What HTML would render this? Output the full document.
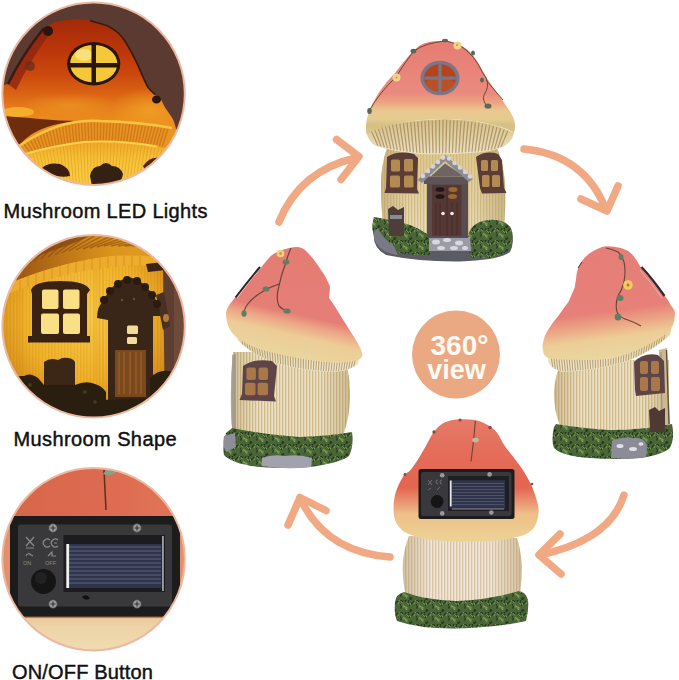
<!DOCTYPE html>
<html><head><meta charset="utf-8">
<style>
html,body{margin:0;padding:0;background:#fff;}
body{width:679px;height:680px;overflow:hidden;position:relative;font-family:"Liberation Sans",sans-serif;}
svg{position:absolute;left:0;top:0;}
.lbl{position:absolute;font-size:20px;color:#111;-webkit-text-stroke:0.45px #111;white-space:nowrap;line-height:1;}
</style></head><body>
<svg width="679" height="680" viewBox="0 0 679 680">
<defs>
  <clipPath id="c1"><circle cx="93.6" cy="93.7" r="91"/></clipPath>
  <clipPath id="c1cap"><path d="M0,86 L8,84 Q20,55 44,28 C46.0,27.0 50.8,23.4 56.0,22.0 C61.2,20.6 69.3,19.7 75.0,19.5 C80.7,19.3 84.6,19.5 90.0,20.6 C95.4,21.7 102.9,23.8 107.6,25.9 C112.3,28.0 115.2,30.4 118.2,33.0 C121.2,35.6 122.9,38.2 125.3,41.7 C127.7,45.2 130.2,50.2 132.3,54.0 C134.4,57.8 135.8,60.9 137.6,64.7 C139.4,68.5 141.2,73.2 143.0,77.0 C144.8,80.8 146.1,84.6 148.2,87.6 C150.2,90.5 153.2,92.8 155.3,94.7 C157.4,96.6 158.8,96.7 160.5,99.0 C162.2,101.3 163.7,105.4 165.8,108.8 C167.9,112.2 171.1,115.8 172.9,119.3 C174.7,122.8 175.8,128.2 176.4,130.0  L190,140 L190,190 L0,190 Z"/></clipPath>
  <clipPath id="c2"><circle cx="93.6" cy="326.3" r="91"/></clipPath>
  <clipPath id="c3"><circle cx="93.6" cy="559.2" r="91"/></clipPath>
  <linearGradient id="g1cap" gradientUnits="userSpaceOnUse" x1="0" y1="20" x2="0" y2="125">
    <stop offset="0" stop-color="#a42a08"/>
    <stop offset="0.28" stop-color="#ba360a"/>
    <stop offset="0.52" stop-color="#cb480e"/>
    <stop offset="0.72" stop-color="#dc6614"/>
    <stop offset="0.88" stop-color="#e8841c"/>
    <stop offset="1" stop-color="#ec9020"/>
  </linearGradient>
  <radialGradient id="g1glowR" cx="0.5" cy="0.5" r="0.5">
    <stop offset="0" stop-color="#f0a024" stop-opacity="0.9"/>
    <stop offset="1" stop-color="#f0a024" stop-opacity="0"/>
  </radialGradient>
  <linearGradient id="g2top" x1="0" y1="0" x2="1" y2="0">
    <stop offset="0" stop-color="#8e4c12"/>
    <stop offset="0.35" stop-color="#c07818"/>
    <stop offset="0.6" stop-color="#dc961e"/>
    <stop offset="1" stop-color="#e2a028"/>
  </linearGradient>
  <linearGradient id="g1gill" x1="0" y1="0" x2="0" y2="1">
    <stop offset="0" stop-color="#f0a82a"/>
    <stop offset="0.35" stop-color="#f6c238"/>
    <stop offset="1" stop-color="#f9d24c"/>
  </linearGradient>
  <radialGradient id="g2wall" cx="0.45" cy="0.45" r="0.6">
    <stop offset="0" stop-color="#f8cc48"/>
    <stop offset="0.55" stop-color="#f0b22a"/>
    <stop offset="1" stop-color="#c67a16"/>
  </radialGradient>
  <linearGradient id="g3top" x1="0" y1="0" x2="1" y2="0">
    <stop offset="0" stop-color="#d66648"/>
    <stop offset="0.5" stop-color="#dc6a50"/>
    <stop offset="1" stop-color="#e27658"/>
  </linearGradient>
  <linearGradient id="g3bot" x1="0" y1="0" x2="0" y2="1">
    <stop offset="0" stop-color="#e9c49a"/>
    <stop offset="0.3" stop-color="#eed5a8"/>
    <stop offset="1" stop-color="#f1dcb2"/>
  </linearGradient>
  <linearGradient id="capg" x1="0" y1="0" x2="0" y2="1">
    <stop offset="0" stop-color="#e5837b"/>
    <stop offset="0.55" stop-color="#eb8f80"/>
    <stop offset="0.75" stop-color="#efae88"/>
    <stop offset="0.9" stop-color="#ecd198"/>
    <stop offset="1" stop-color="#e3cf95"/>
  </linearGradient>
  <linearGradient id="capT" gradientUnits="userSpaceOnUse" x1="0" y1="41" x2="0" y2="134">
    <stop offset="0" stop-color="#e67c72"/>
    <stop offset="0.56" stop-color="#eb8a7e"/>
    <stop offset="0.66" stop-color="#eda382"/>
    <stop offset="0.75" stop-color="#eac88e"/>
    <stop offset="0.84" stop-color="#e4cc90"/>
    <stop offset="0.9" stop-color="#d8c084"/>
    <stop offset="1" stop-color="#dcc488"/>
  </linearGradient>
  <linearGradient id="capL" gradientUnits="userSpaceOnUse" x1="305" y1="250" x2="280" y2="360">
    <stop offset="0" stop-color="#e47c74"/>
    <stop offset="0.57" stop-color="#e57e76"/>
    <stop offset="0.65" stop-color="#eca486"/>
    <stop offset="0.76" stop-color="#edcc96"/>
    <stop offset="1" stop-color="#e9d7a0"/>
  </linearGradient>
  <linearGradient id="capR" gradientUnits="userSpaceOnUse" x1="600" y1="246" x2="615" y2="358">
    <stop offset="0" stop-color="#e47e77"/>
    <stop offset="0.58" stop-color="#e68079"/>
    <stop offset="0.7" stop-color="#eca585"/>
    <stop offset="0.82" stop-color="#edcd96"/>
    <stop offset="1" stop-color="#e9d7a0"/>
  </linearGradient>
  <linearGradient id="capB" gradientUnits="userSpaceOnUse" x1="0" y1="419" x2="0" y2="541">
    <stop offset="0" stop-color="#e67a68"/>
    <stop offset="0.3" stop-color="#e46c58"/>
    <stop offset="0.56" stop-color="#e26650"/>
    <stop offset="0.67" stop-color="#ea9070"/>
    <stop offset="0.78" stop-color="#eec088"/>
    <stop offset="1" stop-color="#ecd296"/>
  </linearGradient>
  <linearGradient id="bodyS" x1="0" y1="0" x2="1" y2="0">
    <stop offset="0" stop-color="#d8c79c"/>
    <stop offset="0.25" stop-color="#e8dcbc"/>
    <stop offset="0.7" stop-color="#e6d9b8"/>
    <stop offset="1" stop-color="#d4c095"/>
  </linearGradient>
  <linearGradient id="bodyB" x1="0" y1="0" x2="1" y2="0">
    <stop offset="0" stop-color="#dcc8a4"/>
    <stop offset="0.3" stop-color="#ead9bd"/>
    <stop offset="0.7" stop-color="#e8d7bb"/>
    <stop offset="1" stop-color="#d8c39c"/>
  </linearGradient>
  <linearGradient id="gillS" x1="0" y1="0" x2="0" y2="1">
    <stop offset="0" stop-color="#e3d2a0"/>
    <stop offset="1" stop-color="#efe6cc"/>
  </linearGradient>
  <linearGradient id="bodyg" x1="0" y1="0" x2="1" y2="0">
    <stop offset="0" stop-color="#d9c391"/>
    <stop offset="0.3" stop-color="#ecdcae"/>
    <stop offset="0.7" stop-color="#ebdbad"/>
    <stop offset="1" stop-color="#d2bb88"/>
  </linearGradient>
  <linearGradient id="gillg" x1="0" y1="0" x2="0" y2="1">
    <stop offset="0" stop-color="#d6c08c"/>
    <stop offset="0.55" stop-color="#e2d2a6"/>
    <stop offset="1" stop-color="#eee4cc"/>
  </linearGradient>
  <pattern id="stripesT" width="3" height="10" patternUnits="userSpaceOnUse"><rect width="3" height="10" fill="#ede3c6"/><rect width="1.3" height="10" fill="#d3bf8e"/></pattern>
  <pattern id="stripesS" width="3" height="10" patternUnits="userSpaceOnUse"><rect width="3" height="10" fill="#f0e6cc"/><rect width="1.3" height="10" fill="#d2bc8a"/></pattern>
  <pattern id="stripesB" width="3" height="10" patternUnits="userSpaceOnUse"><rect width="3" height="10" fill="#f4ebde"/><rect width="1.3" height="10" fill="#dcc6a8"/></pattern>
  <linearGradient id="shadeH" x1="0" y1="0" x2="1" y2="0">
    <stop offset="0" stop-color="#a88c58" stop-opacity="0.45"/>
    <stop offset="0.22" stop-color="#a88c58" stop-opacity="0.05"/>
    <stop offset="0.75" stop-color="#a88c58" stop-opacity="0.05"/>
    <stop offset="1" stop-color="#a88c58" stop-opacity="0.45"/>
  </linearGradient>
  <linearGradient id="shadeTopY" x1="0" y1="0" x2="0" y2="1">
    <stop offset="0" stop-color="#d8b868" stop-opacity="0.55"/>
    <stop offset="0.6" stop-color="#d8b868" stop-opacity="0.25"/>
    <stop offset="1" stop-color="#d8b868" stop-opacity="0"/>
  </linearGradient>
  <pattern id="grass" width="16" height="12" patternUnits="userSpaceOnUse">
    <rect width="16" height="12" fill="#4b6636"/>
    <path d="M5.2,1.8 l0.7,-2.4 M0.6,5.2 l-1.9,-2.4 M10.0,11.4 l0.3,-1.9 M2.3,1.4 l-0.8,-1.3 M8.8,0.8 l-1.9,-2.2 M7.3,3.6 l1.3,-1.5 M11.7,3.5 l2.1,-2.3 M0.6,8.0 l1.2,-1.6 M9.3,5.5 l1.5,-1.1 M10.4,11.9 l1.4,-2.1 M2.7,1.4 l-1.9,-1.3" stroke="#22361f" stroke-width="1.2" stroke-linecap="round" fill="none"/>
    <path d="M8.6,4.4 l-1.9,-1.7 M6.8,9.9 l-1.7,-2.2 M15.6,0.6 l1.6,-2.1 M2.9,7.0 l0.6,-1.9 M10.9,5.1 l-0.8,-1.6 M3.9,6.9 l0.1,-1.2 M6.7,9.1 l-1.5,-1.8 M14.0,3.8 l0.9,-1.6 M7.6,8.0 l-1.9,-1.4 M6.2,8.0 l-2.1,-1.8 M2.1,3.0 l-0.5,-1.2" stroke="#7e9c5c" stroke-width="1" stroke-linecap="round" fill="none"/>
  </pattern>
  <pattern id="wallStripes" width="3.2" height="10" patternUnits="userSpaceOnUse"><rect width="1.2" height="10" fill="#c07010" opacity="0.22"/></pattern>
</defs>

<!-- ===== LEFT CIRCLE 1 ===== -->
<g clip-path="url(#c1)">
  <rect x="0" y="0" width="190" height="190" fill="#5b3a31"/>
  <path d="M0,86 L8,84 Q20,55 44,28 C46.0,27.0 50.8,23.4 56.0,22.0 C61.2,20.6 69.3,19.7 75.0,19.5 C80.7,19.3 84.6,19.5 90.0,20.6 C95.4,21.7 102.9,23.8 107.6,25.9 C112.3,28.0 115.2,30.4 118.2,33.0 C121.2,35.6 122.9,38.2 125.3,41.7 C127.7,45.2 130.2,50.2 132.3,54.0 C134.4,57.8 135.8,60.9 137.6,64.7 C139.4,68.5 141.2,73.2 143.0,77.0 C144.8,80.8 146.1,84.6 148.2,87.6 C150.2,90.5 153.2,92.8 155.3,94.7 C157.4,96.6 158.8,96.7 160.5,99.0 C162.2,101.3 163.7,105.4 165.8,108.8 C167.9,112.2 171.1,115.8 172.9,119.3 C174.7,122.8 175.8,128.2 176.4,130.0  L190,140 L190,190 L0,190 Z" fill="url(#g1cap)"/>
  <g clip-path="url(#c1cap)">
  <ellipse cx="150" cy="110" rx="40" ry="22" fill="url(#g1glowR)"/>
  <ellipse cx="70" cy="105" rx="50" ry="12" fill="url(#g1glowR)" opacity="0.6"/>
  </g>
  <path d="M8,84 Q22,55 44,28 L50,34 Q30,60 16,90 Z" fill="#8e2410" opacity="0.8"/>
  <path d="M8,84 Q22,55 44,28" fill="none" stroke="#3a1a10" stroke-width="2.5"/>
  <path d="M90,20.6 C92.9,21.5 102.9,23.8 107.6,25.9 C112.3,28.0 115.2,30.4 118.2,33.0 C121.2,35.6 122.9,38.2 125.3,41.7 C127.7,45.2 130.2,50.2 132.3,54.0 C134.4,57.8 135.8,60.9 137.6,64.7 C139.4,68.5 141.2,73.2 143.0,77.0 C144.8,80.8 146.1,84.6 148.2,87.6 C150.2,90.5 154.1,93.5 155.3,94.7 " fill="none" stroke="#3a1a0c" stroke-width="1.6"/>
  <circle cx="48" cy="31" r="5" fill="#2a1510"/>
  <circle cx="30" cy="66" r="5" fill="#6a3018" opacity="0.8"/>
  <ellipse cx="156.5" cy="99.5" rx="4.5" ry="4" fill="#2a1510"/>
  <!-- dark band lower-left -->
  <path d="M0,116 Q20,117 40,119 Q60,121 80,121 Q50,123 32,134 Q22,141 17,148 L0,150 Z" fill="#6e2e0e"/>
  <!-- bright glow left -->
  <ellipse cx="18" cy="112" rx="16" ry="5" fill="#f6b52c" opacity="0.85"/>
  <!-- gills upper band -->
  <path d="M19,146 Q60,118 100,121 Q140,122 172,128 L180,140 Q170,149 157,146.4 Q120,140 84,142 Q50,146 22,155 Z" fill="#e99624"/>
  <path d="M22,155 Q50,146 84,142 Q120,140 157,146.4 Q168,148 186,152 L186,190 L0,190 L0,165 Z" fill="url(#g1gill)"/>
  <g stroke="#b8620e" stroke-width="1.4" opacity="0.55"><path d="M24.0,144.2 L29.7,151.6 M27.2,142.2 L32.6,150.8 M30.4,140.2 L35.6,150.0 M33.6,138.4 L38.5,149.3 M36.8,136.8 L41.5,148.5 M40.0,135.2 L44.4,147.9 M43.2,133.6 L47.3,147.2 M46.4,132.2 L50.3,146.5 M49.6,130.8 L53.2,145.9 M52.8,129.7 L56.2,145.3 M56.0,128.5 L59.1,144.7 M59.2,127.4 L62.1,144.2 M62.4,126.5 L65.0,143.7 M65.6,125.6 L68.0,143.2 M68.8,124.8 L70.9,142.8 M72.0,124.1 L73.8,142.3 M75.2,123.6 L76.8,141.9 M78.4,123.2 L79.7,141.5 M81.6,122.8 L82.7,141.2 M84.8,122.5 L85.6,140.9 M88.0,122.3 L88.6,140.8 M91.2,122.2 L91.5,140.7 M94.4,122.2 L94.4,140.6 M97.6,122.3 L97.4,140.5 M100.8,122.5 L100.3,140.5 M104.0,122.6 L103.3,140.5 M107.2,122.7 L106.2,140.6 M110.4,122.8 L109.2,140.6 M113.6,123.0 L112.1,140.7 M116.8,123.2 L115.1,140.8 M120.0,123.3 L118.0,141.0 M123.2,123.5 L120.9,141.1 M126.4,123.8 L123.9,141.3 M129.6,124.0 L126.8,141.6 M132.8,124.3 L129.8,141.8 M136.0,124.6 L132.7,142.1 M139.2,124.9 L135.7,142.4 M142.4,125.2 L138.6,142.7 M145.6,125.6 L141.6,143.1 M148.8,125.9 L144.5,143.5 M152.0,126.3 L147.4,143.9 M155.2,126.8 L150.4,144.3 M158.4,127.2 L153.3,144.8 M161.6,127.7 L156.3,145.3 M164.8,128.2 L159.2,145.7 M168.0,128.8 L162.2,146.3"/></g>
  <g stroke="#d88a18" stroke-width="1" opacity="0.45"><path d="M26.0,155.3 L36.4,190.0 M29.4,154.2 L39.2,190.0 M32.8,153.2 L42.1,190.0 M36.2,152.4 L45.0,190.0 M39.6,151.5 L47.9,190.0 M43.0,150.6 L50.8,190.0 M46.4,149.9 L53.7,190.0 M49.8,149.1 L56.6,190.0 M53.2,148.4 L59.5,190.0 M56.6,147.7 L62.4,190.0 M60.0,147.1 L65.2,190.0 M63.4,146.5 L68.1,190.0 M66.8,145.9 L71.0,190.0 M70.2,145.4 L73.9,190.0 M73.6,144.9 L76.8,190.0 M77.0,144.4 L79.7,190.0 M80.4,144.0 L82.6,190.0 M83.8,143.5 L85.5,190.0 M87.2,143.3 L88.4,190.0 M90.6,143.2 L91.3,190.0 M94.0,143.1 L94.2,190.0 M97.4,143.0 L97.0,190.0 M100.8,143.0 L99.9,190.0 M104.2,143.0 L102.8,190.0 M107.6,143.1 L105.7,190.0 M111.0,143.2 L108.6,190.0 M114.4,143.3 L111.5,190.0 M117.8,143.5 L114.4,190.0 M121.2,143.7 L117.3,190.0 M124.6,143.9 L120.2,190.0 M128.0,144.2 L123.1,190.0 M131.4,144.5 L125.9,190.0 M134.8,144.8 L128.8,190.0 M138.2,145.2 L131.7,190.0 M141.6,145.6 L134.6,190.0 M145.0,146.1 L137.5,190.0 M148.4,146.5 L140.4,190.0 M151.8,147.0 L143.3,190.0 M155.2,147.6 L146.2,190.0 M158.6,148.2 L149.1,190.0 M162.0,148.8 L152.0,190.0 M165.4,149.5 L154.8,190.0 M168.8,150.4 L157.7,190.0"/></g>
  <path d="M19,146 Q60,118 100,121 Q140,122 172,128" fill="none" stroke="#f8c444" stroke-width="2.6"/>
  <path d="M22,155 Q50,146 84,142 Q120,140 157,146.4" fill="none" stroke="#fad050" stroke-width="2"/>
  <ellipse cx="93.7" cy="63.7" rx="26.6" ry="21.7" fill="#2a1509"/>
  <ellipse cx="93.7" cy="63.7" rx="23.6" ry="18.8" fill="#f5c83a"/>
  <ellipse cx="84" cy="55" rx="9" ry="6" fill="#fae07a"/>
  <rect x="91.5" y="43" width="4.5" height="42" fill="#2a1509"/>
  <rect x="68" y="63" width="52" height="4.5" fill="#2a1509"/>
  <path d="M42,168 Q48,162 60,164 Q70,168 70,176 Q60,178 48,174 Z" fill="#3a1e10"/>
  <path d="M90,176 Q92,166 100,166 Q106,160 112,166 Q120,166 123,174 Q122,184 110,186 L92,186 Z" fill="#352014"/>
  <path d="M143,166 Q150,156 160,158 L165,165 Q155,170 145,170 Z" fill="#4a2a14"/>
</g>
<circle cx="93.6" cy="93.7" r="91.2" fill="none" stroke="#ecb8a0" stroke-width="2"/>

<!-- ===== LEFT CIRCLE 2 ===== -->
<g clip-path="url(#c2)">
  <rect x="0" y="230" width="190" height="190" fill="url(#g2wall)"/>
  <!-- wall stripes -->
  <rect x="0" y="230" width="190" height="190" fill="url(#wallStripes)"/>
  <g stroke="#d08a18" stroke-width="1" opacity="0.35">
    <path d="M6,270 V400 M10,268 V400 M14,266 V400 M18,264 V400 M22,262 V400 M95,260 V380 M99,260 V380 M103,260 V380 M158,260 V380 M162,260 V380"/>
  </g>
  <!-- cap underside -->
  <path d="M0,230 L190,230 L190,262 Q150,254 112,256 Q60,262 8,284 L0,288 Z" fill="url(#g2top)"/>
  <path d="M0,230 L100,230 Q85,240 60,248 Q30,258 10,270 L0,276 Z" fill="#6e3a10" opacity="0.6"/>
  <g stroke="#8a4a10" stroke-width="1.4" opacity="0.6">
    <path d="M20,268 L40,238 M27,265 L48,237 M34,262 L56,236 M41,259 L64,235 M48,257 L72,235 M55,255 L80,235 M62,253 L88,235 M69,251 L96,235 M76,250 L104,235 M83,249 L111,236 M90,248 L118,236 M97,247 L125,237 M104,246 L132,238 M111,246 L139,239 M118,246 L146,241 M125,246 L152,243 M132,246 L158,245"/>
  </g>
  <path d="M8,284 Q60,262 112,256 Q150,254 190,262 L190,270 Q150,264 112,266 Q60,272 8,294 Z" fill="#eeac2c"/>
  <g stroke="#c07818" stroke-width="1" opacity="0.5"><path d="M20,280 V290 M28,276 V287 M36,273 V284 M44,270 V281 M52,267 V279 M60,265 V277 M68,263 V275 M76,261 V273 M84,259 V271 M92,258 V270 M100,257 V269 M108,256 V268 M116,256 V267 M124,256 V266 M132,256 V266 M140,256 V266"/></g>
  <!-- right dark pillar -->
  <path d="M163,268 L172,262 L190,262 L190,420 L165,420 Z" fill="#5e3e30"/>
  <rect x="174" y="262" width="16" height="160" fill="#6e4a3a"/>
  <path d="M146,264 L163,262 L166,270 L148,272 Z" fill="#3a2418"/>
  <path d="M156,295 L164,292 L170,326 L163,330 Z" fill="#4a3020"/>
  <ellipse cx="166" cy="318" rx="3" ry="4" fill="#c89040" opacity="0.8"/>
  <!-- window -->
  <path d="M31,290 Q34,281 60,281 Q86,281 90,290 L87,294 L87,336 L90,336 L90,342.5 L28,342.5 L28,336 L32,336 L32,294 Z" fill="#3a2212"/>
  <rect x="42" y="289.5" width="16.5" height="19.5" rx="2" fill="#f9e084"/>
  <rect x="63" y="289.5" width="16.5" height="19.5" rx="2" fill="#f9e084"/>
  <rect x="41" y="313.5" width="18" height="20.5" rx="2" fill="#f9e084"/>
  <rect x="63" y="313.5" width="17" height="20.5" rx="2" fill="#f9e084"/>
  <!-- door -->
  <path d="M97,318 Q97,306 104,300 Q108,290 116,284 Q122,278 130,277.5 Q140,279 146,287 Q154,294 157,303 Q161,310 160,316 L153,316 L153,405 L108,405 L108,320 Z" fill="#3a2618"/>
  <g fill="#2a1a10"><circle cx="104" cy="300" r="4"/><circle cx="110" cy="291" r="4"/><circle cx="118" cy="284" r="4"/><circle cx="127" cy="280" r="4"/><circle cx="137" cy="281" r="4"/><circle cx="145" cy="287" r="4"/><circle cx="152" cy="295" r="4"/><circle cx="157" cy="304" r="4"/></g>
  <g fill="#8a6030" opacity="0.7"><circle cx="122" cy="300" r="1.2"/><circle cx="134" cy="299" r="1.2"/></g>
  <path d="M115,350 L146,350 L146,397 L115,397 Z" fill="#7a4a1e"/>
  <g stroke="#a8642a" stroke-width="1.3" opacity="0.8"><path d="M119,352 V394 M124,352 V394 M130,352 V394 M136,352 V394 M141,352 V394"/></g>
  <rect x="127" y="325.5" width="11" height="8.5" rx="1.5" fill="#f4dc98"/>
  <rect x="127" y="337" width="10" height="7" rx="1.5" fill="#f4dc98"/>
  <!-- post -->
  <path d="M44,362 Q50,357 58,360 L62,358 Q72,357 75,362 L75,405 L44,405 Z" fill="#3c2616"/>
  <!-- bushes -->
  <path d="M0,384 Q12,375 24,376 Q30,372 38,378 L44,385 L75,385 Q86,380 95,384 Q102,386 106,392 L106,420 L0,420 Z" fill="#2a1e10"/>
  <path d="M150,378 Q160,368 172,372 Q180,370 190,376 L190,420 L150,420 Z" fill="#2a1e10"/>
  <path d="M100,400 L160,398 L160,420 L100,420 Z" fill="#2a1e10"/>
  <g fill="#5a4a20" opacity="0.6"><circle cx="30" cy="385" r="2"/><circle cx="85" cy="392" r="2"/><circle cx="95" cy="402" r="1.8"/><circle cx="20" cy="396" r="1.8"/><circle cx="165" cy="385" r="2"/></g>
</g>
<circle cx="93.6" cy="326.3" r="91.2" fill="none" stroke="#ecb8a0" stroke-width="2"/>

<!-- ===== LEFT CIRCLE 3 ===== -->
<g clip-path="url(#c3)">
  <rect x="0" y="464" width="190" height="190" fill="#e0906c"/>
  <rect x="0" y="464" width="190" height="55" fill="url(#g3top)"/>
  <path d="M104,470 Q105,490 106,510" stroke="#5a3020" stroke-width="1.5" fill="none"/>
  <path d="M103,474 Q108,466 118,470 Q112,478 103,474 Z" fill="#8aa080"/>
  <rect x="0" y="614" width="190" height="45" fill="url(#g3bot)"/>
  <rect x="10" y="516" width="170" height="101" rx="2" fill="#1c1c1c"/>
  <rect x="8" y="616.5" width="174" height="1.6" fill="#b86e40" opacity="0.8"/>
  <rect x="18" y="524.5" width="154" height="82" rx="3" fill="#39393b"/>
  <rect x="63.5" y="535" width="101.5" height="57" fill="#1c1c20"/>
  <rect x="68" y="544" width="93.5" height="44" fill="#30344a"/>
  <g stroke="#646c88" stroke-width="0.9">
    <path d="M69,547 H161 M69,551 H161 M69,555 H161 M69,559 H161 M69,563 H161 M69,567 H161 M69,571 H161 M69,575 H161 M69,579 H161 M69,583 H161"/>
  </g>
  <rect x="66.3" y="544" width="2.8" height="44" fill="#f0f0f0"/>
  <rect x="162" y="536" width="1.8" height="55" fill="#a0a0a8"/>
  <g fill="none" stroke="#8a8a8a" stroke-width="1.2">
    <path d="M26,537 L34,546 M34,537 L26,546 M26,548 H34"/>
    <path d="M50,540 A4,4 0 1 0 50,546 M58,540 A4,4 0 1 0 58,546 M54,543 H57"/>
    <path d="M26,556 Q28,552 31,555 L33,556"/>
    <path d="M48,556 L52,552 L52,556 L56,556"/>
  </g>
  <text x="23" y="565" font-family="Liberation Sans" font-size="5.5" fill="#8a8a8a">ON</text>
  <text x="45" y="565" font-family="Liberation Sans" font-size="5.5" fill="#8a8a8a">OFF</text>
  <circle cx="43.5" cy="581.5" r="12.5" fill="#151515"/>
  <circle cx="41" cy="578" r="6" fill="#2a2a2a" opacity="0.6"/>
  <g fill="#9a9a9a" stroke="#444" stroke-width="0.8">
    <circle cx="53" cy="528" r="4.3"/><circle cx="137" cy="528" r="4.3"/>
    <circle cx="53" cy="604" r="4.3"/><circle cx="137" cy="604" r="4.3"/>
  </g>
  <g stroke="#333" stroke-width="1.1">
    <path d="M50.5,528 H55.5 M53,525.5 V530.5 M134.5,528 H139.5 M137,525.5 V530.5 M50.5,604 H55.5 M53,601.5 V606.5 M134.5,604 H139.5 M137,601.5 V606.5"/>
  </g>
  <path d="M82,597 Q86,593 90,598 Q86,602 82,597 Z" fill="#111"/>
</g>
<circle cx="93.6" cy="559.2" r="91.2" fill="none" stroke="#ecb8a0" stroke-width="2"/>

<!-- ===== ARROWS ===== -->
<g fill="none" stroke="#f0a982" stroke-width="7.5" stroke-linecap="round" stroke-linejoin="round">
  <path d="M279,222 Q300,170 357.5,157.5"/>
  <path d="M336.5,139.5 L359,156.5 L341,179.5"/>
  <path d="M524,149 Q585,155 606,210"/>
  <path d="M581,199 L607,211 L618,186"/>
  <path d="M624,495 Q610,540 540,555"/>
  <path d="M560,534 L539,555 L561,574"/>
  <path d="M390,557 Q325,552 300,498"/>
  <path d="M288,525 L300,497.5 L326,510.5"/>
</g>

<!-- ===== 360 circle ===== -->
<circle cx="456" cy="354.5" r="44" fill="#eba983"/>
<text x="459.5" y="354.5" text-anchor="middle" font-family="Liberation Sans" font-weight="bold" font-size="28" fill="#fffaf2">360°</text>
<text x="456.5" y="378.6" text-anchor="middle" font-family="Liberation Sans" font-weight="bold" font-size="27" fill="#fffaf2">view</text>

<!-- ===== TOP MUSHROOM ===== -->
<g>
  <!-- body -->
  <path d="M387,148 Q381,165 381,185 Q381,205 383,226 Q400,236 430,240 L468,240 Q490,236 504,228 Q506,200 505,185 Q504,165 497,148 Z" fill="url(#stripesT)"/>
  <path d="M387,148 Q381,165 381,185 Q381,205 383,226 Q400,236 430,240 L468,240 Q490,236 504,228 Q506,200 505,185 Q504,165 497,148 Z" fill="url(#shadeTopY)"/>
  <path d="M387,148 Q381,165 381,185 Q381,205 383,226 Q400,236 430,240 L468,240 Q490,236 504,228 Q506,200 505,185 Q504,165 497,148 Z" fill="url(#shadeH)"/>
  <!-- base -->
  <path d="M374,232 Q372,248 386,255 Q420,262 460,261.5 Q500,260 510,252 Q514,245 512,236 L470,236 L430,236 Z" fill="#5b5b66"/>
  <path d="M374,217 Q371,226 373,232 Q374,244 384,250 Q405,256 430,255 L430,236 Q422,230 410,225 Q398,221 385,219 Z" fill="url(#grass)"/>
  <path d="M374,232 Q373,244 384,251 Q390,254 398,255 L394,246 Q382,238 378,228 Z" fill="#7a7a86"/>
  <path d="M468,237 Q469,228 476,224 Q485,219 496,220 Q506,221 511,228 Q514,236 512,244 Q509,254 492,258 L470,258 Z" fill="url(#grass)"/>
  <path d="M429,237 L470,237 L471,251 L429,251 Z" fill="#9c9ca8"/>
  <g fill="#d8d8e0"><ellipse cx="436" cy="242" rx="4" ry="2.5"/><ellipse cx="447" cy="240" rx="4" ry="2"/><ellipse cx="459" cy="243" rx="4" ry="2.5"/><ellipse cx="441" cy="248" rx="4" ry="2"/><ellipse cx="454" cy="248" rx="4" ry="2"/><ellipse cx="465" cy="248" rx="3" ry="2"/></g>
  <!-- gills -->
  <path d="M366,131 Q368,142 376,146 Q395,152 420,154 Q445,155 470,153 Q492,152 503,147 Q512,142 514,133 Q490,120 445,119 Q395,120 366,131 Z" fill="url(#gillg)"/>
  <g stroke="#a08050" stroke-width="1.3" opacity="0.7"><path d="M371.0,130.2 L377.9,145.6 M374.6,129.1 L381.1,146.5 M378.2,128.1 L384.4,147.4 M381.8,127.1 L387.6,148.2 M385.4,126.3 L390.9,148.9 M389.0,125.5 L394.1,149.6 M392.6,124.8 L397.3,150.1 M396.2,124.2 L400.6,150.7 M399.8,123.6 L403.8,151.2 M403.4,123.1 L407.1,151.7 M407.0,122.6 L410.3,152.0 M410.6,122.1 L413.5,152.4 M414.2,121.8 L416.8,152.7 M417.8,121.4 L420.0,153.0 M421.4,121.1 L423.3,153.1 M425.0,120.9 L426.5,153.2 M428.6,120.6 L429.7,153.3 M432.2,120.4 L433.0,153.3 M435.8,120.3 L436.2,153.3 M439.4,120.1 L439.5,153.3 M443.0,120.0 L442.7,153.3 M446.6,120.0 L445.9,153.2 M450.2,120.2 L449.2,153.1 M453.8,120.3 L452.4,153.0 M457.4,120.5 L455.7,152.9 M461.0,120.8 L458.9,152.7 M464.6,121.1 L462.1,152.6 M468.2,121.5 L465.4,152.3 M471.8,121.9 L468.6,152.1 M475.4,122.4 L471.9,151.9 M479.0,122.9 L475.1,151.7 M482.6,123.6 L478.3,151.4 M486.2,124.3 L481.6,151.1 M489.8,125.1 L484.8,150.7 M493.4,126.0 L488.1,150.2 M497.0,127.1 L491.3,149.6 M500.6,128.2 L494.5,148.9 M504.2,129.5 L497.8,148.0 M507.8,131.0 L501.0,146.8"/></g>
  <!-- cap -->
  <path d="M366,128 C366,110 380,88 395,73 C403,63 410,53 419,46 C425,42 433,41 442,41 C452,41 460,44 468,50 C476,57 482,70 488,80 C496,92 506,104 512,115 C515,120 516,126 514,133 C500,124 470,119 443,119 C410,120 385,124 367,134 C366,132 366,130 366,128 Z" fill="url(#capT)"/>
  <!-- vines -->
  <g fill="none" stroke="#6a4a38" stroke-width="1">
    <path d="M369,111 Q380,92 396,77 Q405,62 414,51 Q425,43 445,41 Q458,43 466,50 Q475,58 478,64 Q482,72 486,78 Q490,86 484,95 Q482,100 487,106"/>
    <path d="M486,80 Q496,92 503,100"/>
  </g>
  <g fill="#58685a">
    <ellipse cx="413.5" cy="51" rx="3" ry="2.3"/><ellipse cx="369.5" cy="111" rx="2.3" ry="3"/><ellipse cx="445" cy="40.5" rx="3" ry="1.8"/>
    <ellipse cx="488" cy="106" rx="3.5" ry="2.6"/><ellipse cx="473" cy="53" rx="2" ry="2.5"/><ellipse cx="482" cy="80" rx="2" ry="2.5"/>
  </g>
  <g fill="#f0d48a"><circle cx="396.5" cy="77.5" r="4"/><circle cx="457.5" cy="45.5" r="4"/></g>
  <g fill="#c89a40"><circle cx="396.5" cy="77.5" r="1"/><circle cx="457" cy="45" r="1"/></g>
  <!-- cap window -->
  <ellipse cx="440" cy="78" rx="19.5" ry="17.3" fill="#7a7686"/>
  <ellipse cx="440" cy="78" rx="15.8" ry="13.8" fill="#b5441e"/>
  <ellipse cx="440" cy="84" rx="14" ry="7" fill="#c0582a" opacity="0.6"/>
  <rect x="438.3" y="63" width="3.4" height="30" fill="#7a7686"/>
  <rect x="424.5" y="76.5" width="31" height="3.2" fill="#7a7686"/>
  <!-- left window -->
  <path d="M387,157 Q398,150 414,154 L418,158 L417,189 L419,193.5 L384.5,193 L386,188 Z" fill="#5b3c36"/>
  <g fill="#b38a50"><rect x="391" y="159.5" width="9" height="12" rx="1.5"/><rect x="404" y="159" width="9" height="12.5" rx="1.5"/><rect x="390" y="175.5" width="10" height="12" rx="1.5"/><rect x="404" y="175.5" width="9.5" height="12" rx="1.5"/></g>
  <!-- right window -->
  <path d="M476,157 Q486,150 498,154 L502,160 L504,188 L506.5,193 L482,193.5 L480,188 Z" fill="#5b3c36"/>
  <g fill="#b38a50"><rect x="481" y="160" width="7" height="11" rx="1.5"/><rect x="491" y="160" width="7" height="11" rx="1.5"/><rect x="482" y="175" width="7.5" height="12" rx="1.5"/><rect x="492" y="175" width="8" height="12" rx="1.5"/></g>
  <!-- door -->
  <rect x="427" y="178" width="41" height="60" fill="#5a4c4e"/>
  <rect x="432" y="185" width="29.5" height="51" fill="#553834"/>
  <g stroke="#3e2a28" stroke-width="0.8" opacity="0.8"><path d="M436,203 V235 M440,203 V235 M447,186 V236 M452,203 V235 M457,203 V235"/></g>
  <g fill="#221614"><ellipse cx="440" cy="189.5" rx="4.5" ry="2.3"/><ellipse cx="440" cy="196.5" rx="4.5" ry="2.3"/></g>
  <g fill="#9a6a30"><ellipse cx="453" cy="189.5" rx="4.5" ry="2.5"/><ellipse cx="452.5" cy="196.5" rx="4.5" ry="2.5"/></g>
  <circle cx="443" cy="213.5" r="1.8" fill="#f2eee6"/><circle cx="452" cy="213.5" r="1.8" fill="#f2eee6"/>
  <path d="M424,176.5 L467.5,176.5 L467.5,184 L424,184 Z" fill="#5e5358"/>
  <path d="M430.6,176.5 L445,163.5 L464.6,176.5 Z" fill="#6e6464"/>
  <path d="M417.7,180 L445,155 L473,179 L469,182 L445,161 L422,183 Z" fill="#8c8c96"/>
  <g fill="#d4d4dc"><circle cx="423" cy="176" r="2.2"/><circle cx="428" cy="171" r="2.2"/><circle cx="433" cy="166.5" r="2.2"/><circle cx="438" cy="162" r="2.2"/><circle cx="443" cy="157.5" r="2.4"/><circle cx="449" cy="158.5" r="2.2"/><circle cx="454.5" cy="163" r="2.2"/><circle cx="460" cy="167.5" r="2.2"/><circle cx="465" cy="172" r="2.2"/><circle cx="470" cy="176.5" r="2.2"/></g>
  <!-- stump -->
  <path d="M388,209 L393,206 L398,210 L404,207 L404,236 L389,236 Z" fill="#4e3e3a"/>
  <rect x="390" y="215" width="12" height="4" fill="#8a8a94"/>
</g>

<!-- ===== LEFT MUSHROOM ===== -->
<g>
  <!-- body -->
  <path d="M233,352 Q230,380 231,410 Q231,425 233,433 Q260,437 300,438 Q330,437 344,433 Q350,415 350,395 Q350,380 347,365 L340,352 Z" fill="url(#stripesS)"/>
  <path d="M233,352 Q230,380 231,410 Q231,425 233,433 Q260,437 300,438 Q330,437 344,433 Q350,415 350,395 Q350,380 347,365 L340,352 Z" fill="url(#shadeH)"/>
  <path d="M232,355 L236,354 L236,432 L232,432 Z" fill="#8a8a8a" opacity="0.6"/>
  <!-- base -->
  <path d="M226,433 Q222,446 224,455 Q232,464 260,467 Q285,469 310,467 Q340,463 349,456 Q354,446 352,432 Q330,436 300,437 Q260,434 232,428 Z" fill="url(#grass)"/>
  <path d="M224,436 Q222,446 226,452 L236,447 L235,433 Z" fill="#8e8e98"/>
  <path d="M262,458 Q272,454 285,456 Q300,454 312,458 L311,467 Q285,470 262,466 Z" fill="#a2a2ae"/>
  <!-- gills -->
  <path d="M236,330 Q250,345 275,352 Q305,360 335,362 Q352,362 360,357 L358,364 Q350,371 334,372 Q300,371 272,362 Q248,352 238,340 Z" fill="url(#gillS)"/>
  <g stroke="#a08050" stroke-width="1" opacity="0.7"><path d="M241.0,335.3 L242.8,344.4 M243.6,337.4 L245.3,346.6 M246.2,339.3 L247.8,348.5 M248.8,341.1 L250.3,350.3 M251.4,342.8 L252.9,351.8 M254.0,344.2 L255.4,353.4 M256.6,345.6 L257.9,354.8 M259.2,346.8 L260.4,356.1 M261.8,347.9 L262.9,357.4 M264.4,349.0 L265.5,358.6 M267.0,350.0 L268.0,359.8 M269.6,350.9 L270.5,360.9 M272.2,351.7 L273.0,361.9 M274.8,352.4 L275.6,362.6 M277.4,353.1 L278.1,363.3 M280.0,353.8 L280.6,364.0 M282.6,354.4 L283.1,364.7 M285.2,355.1 L285.6,365.3 M287.8,355.6 L288.2,365.9 M290.4,356.2 L290.7,366.5 M293.0,356.8 L293.2,367.0 M295.6,357.3 L295.7,367.5 M298.2,357.8 L298.3,368.0 M300.8,358.3 L300.8,368.4 M303.4,358.7 L303.3,368.8 M306.0,359.2 L305.8,369.1 M308.6,359.6 L308.3,369.5 M311.2,360.0 L310.9,369.8 M313.8,360.4 L313.4,370.1 M316.4,360.7 L315.9,370.4 M319.0,361.0 L318.4,370.6 M321.6,361.3 L321.0,370.8 M324.2,361.6 L323.5,371.0 M326.8,361.8 L326.0,371.1 M329.4,362.1 L328.5,371.3 M332.0,362.3 L331.0,371.4 M334.6,362.5 L333.6,371.5 M337.2,362.5 L336.1,371.3 M339.8,362.4 L338.6,371.1 M342.4,362.2 L341.1,370.7 M345.0,362.0 L343.7,370.2 M347.6,361.6 L346.2,369.6 M350.2,361.2 L348.7,368.8 M352.8,360.5 L351.2,367.8 M355.4,359.7 L353.7,366.5"/></g>
  <!-- cap -->
  <path d="M277,252 Q289,247 298,247 Q304,248 307,252 Q313,258 317.5,264.7 Q321,270 324.6,275.3 Q327,280 329.9,286 Q330,292 329,297.7 Q332,302 336,308.3 Q340,315 344.8,322.4 Q349,329 353.7,336.6 Q358,343 360.7,349 Q363,354 362,357 Q359,361 348,362 Q330,363 310,360 Q285,356 262,350 Q245,344 236,337 Q229,331 227,322 Q225,314 227,309 Q230,303 234,299 Q238,294 243,288 Q250,280 256,274 Q262,266 268,259 Q272,254 277,252 Z" fill="url(#capL)"/>
  <!-- side window on cap -->
  <path d="M262,266 Q250,280 237,298" fill="none" stroke="#e8d8d0" stroke-width="1" opacity="0.9"/>
  <path d="M260,267 Q248,281 235.5,297.5" fill="none" stroke="#2e2628" stroke-width="2"/>
  <!-- vines -->
  <g fill="none" stroke="#6a4438" stroke-width="1.2">
    <path d="M291,248 Q288,255 286,262 Q281,275 278,290 Q276,300 279,306 Q283,310 290,312"/>
    <path d="M279,284 Q268,288 262,292 Q252,298 247,305 Q244,310 244,313"/>
  </g>
  <g fill="#5e8060"><ellipse cx="286" cy="262" rx="3.4" ry="2.6"/><ellipse cx="266" cy="289" rx="3.4" ry="2.6"/><ellipse cx="244" cy="313.5" rx="2.6" ry="3.2"/><ellipse cx="287" cy="311" rx="3.6" ry="2.6"/></g>
  <circle cx="280.5" cy="253.5" r="3.8" fill="#eed080"/><circle cx="280.5" cy="253.5" r="1.2" fill="#c09040"/>
  <!-- window on body -->
  <path d="M243,366 Q254,358 272,361 L277,366 L274,396 L276,401.5 L239.5,400 L242,394 Z" fill="#5e4446"/>
  <g fill="#a87848"><rect x="246.4" y="367.5" width="9.5" height="12.5" rx="2"/><rect x="258.5" y="367.5" width="9.5" height="12.5" rx="2"/><rect x="245" y="382.7" width="10.5" height="12.6" rx="2"/><rect x="257.6" y="382.7" width="10.4" height="12.6" rx="2"/></g>
</g>

<!-- ===== RIGHT MUSHROOM ===== -->
<g>
  <!-- body -->
  <path d="M562,360 Q555,375 554,392 Q554,412 560,425 Q590,430 620,430 Q650,428 669,424 L669,360 Z" fill="url(#stripesS)"/>
  <path d="M562,360 Q555,375 554,392 Q554,412 560,425 Q590,430 620,430 Q650,428 669,424 L669,360 Z" fill="url(#shadeH)"/>
  <path d="M659,350 L667,348 L670,424 L660,426 Z" fill="#cbb88e"/>
  <path d="M666.5,350 L669,424" stroke="#5a4a40" stroke-width="1.3"/>
  <path d="M661,352 L662,424" stroke="#9a8460" stroke-width="0.8"/>
  <!-- base -->
  <path d="M554,427 Q551,440 554,448 Q562,456 590,458 Q615,460 640,458 Q662,455 670,448 Q675,438 672,424 Q640,430 610,430 Q580,428 556,424 Z" fill="url(#grass)"/>
  <path d="M612,441 Q622,436 634,438 Q644,437 647,445 L646,457 Q628,460 611,458 Z" fill="#8c8c98"/>
  <g fill="#e0e0e8"><ellipse cx="620" cy="446" rx="3.5" ry="2"/><ellipse cx="633" cy="449" rx="4" ry="2"/><ellipse cx="641" cy="444" rx="2.5" ry="1.8"/></g>
  <!-- stump -->
  <path d="M649,410 L655,407 L659,411 L665,408 L665,432 L650,432 Z" fill="#4e3a32"/>
  <!-- gills -->
  <path d="M548,355 Q580,361 610,358 Q640,352 672,326 L670,335 Q652,352 625,362 Q595,371 562,372 Q550,368 548,362 Z" fill="url(#gillS)"/>
  <g stroke="#a08050" stroke-width="1" opacity="0.7"><path d="M551.0,356.0 L552.8,367.2 M553.6,356.5 L555.3,368.7 M556.2,356.9 L557.8,369.9 M558.8,357.3 L560.3,370.9 M561.4,357.6 L562.9,371.5 M564.0,357.9 L565.4,371.4 M566.6,358.2 L567.9,371.3 M569.2,358.5 L570.4,371.1 M571.8,358.7 L572.9,370.9 M574.4,358.9 L575.5,370.7 M577.0,359.1 L578.0,370.5 M579.6,359.3 L580.5,370.3 M582.2,359.4 L583.0,370.0 M584.8,359.4 L585.6,369.7 M587.4,359.5 L588.1,369.4 M590.0,359.5 L590.6,369.1 M592.6,359.5 L593.1,368.7 M595.2,359.4 L595.6,368.3 M597.8,359.3 L598.2,367.8 M600.4,359.2 L600.7,367.4 M603.0,359.1 L603.2,366.9 M605.6,358.9 L605.7,366.4 M608.2,358.7 L608.3,365.9 M610.8,358.3 L610.8,365.3 M613.4,357.8 L613.3,364.6 M616.0,357.1 L615.8,364.0 M618.6,356.4 L618.3,363.4 M621.2,355.6 L620.9,362.7 M623.8,354.8 L623.4,361.9 M626.4,353.8 L625.9,361.2 M629.0,352.8 L628.4,360.2 M631.6,351.7 L631.0,359.2 M634.2,350.6 L633.5,358.1 M636.8,349.3 L636.0,357.0 M639.4,348.1 L638.5,355.8 M642.0,346.8 L641.0,354.6 M644.6,345.2 L643.6,353.2 M647.2,343.8 L646.1,351.8 M649.8,342.3 L648.6,350.5 M652.4,340.8 L651.1,348.9 M655.0,338.9 L653.7,347.3 M657.6,337.2 L656.2,345.6 M660.2,335.5 L658.7,343.8 M662.8,333.7 L661.2,342.0 M665.4,331.8 L663.7,339.9"/></g>
  <!-- cap -->
  <path d="M601.4,247.2 Q608,245 621.9,248.2 Q628,250 632,254.3 Q637,260 640.3,266.6 Q644,270 646.4,272.8 Q655,283 662.8,293.2 Q668,299 671,305.5 Q675,310 675,313.7 Q675,320 673,325 Q668,333 662,337 Q655,341 648,345 Q635,352 620,356 Q610,359 601,359.5 Q580,360 560,359.5 Q550,359 546,357 Q543,354 543,350.5 Q542,346 543,342.4 Q544,336 548,330 Q552,323 558.4,315.7 Q563,309 568.7,301.4 Q572,294 574.8,287 Q576,280 576.8,272.8 Q578,267 581,262.5 Q585,256 591.2,252.3 Q596,249 601.4,247.2 Z" fill="url(#capR)"/>
  <!-- side window on cap (right) -->
  <path d="M641.5,267 Q652,278 664.5,296" fill="none" stroke="#2e2a2e" stroke-width="2.2"/>
  <path d="M640,270 Q650,281 662,298" fill="none" stroke="#d8c8c8" stroke-width="0.9" opacity="0.8"/>
  <!-- vines -->
  <g fill="none" stroke="#6a4438" stroke-width="1.1">
    <path d="M606,248 Q612,249 618,252 Q622,256 624,262 Q626,270 624,282 Q622,290 618,296 Q615,304 617,312 Q620,318 628,320 Q634,322 641,326"/>
    <path d="M578,268 L582,262"/>
  </g>
  <g fill="#5e8060"><ellipse cx="621" cy="257" rx="2.5" ry="3"/><ellipse cx="620" cy="298" rx="3.5" ry="3"/><ellipse cx="618" cy="317" rx="3.3" ry="3.5"/></g>
  <circle cx="628" cy="285" r="4.8" fill="#f0cc60"/><circle cx="628" cy="285" r="1.5" fill="#b07a30"/>
  <!-- window on body -->
  <path d="M634,362 Q644,352 658,355 L664,361 L665,393 L636,396 L635,390 Z" fill="#5e4446"/>
  <g fill="#a87848"><rect x="640" y="361" width="8" height="13" rx="2"/><rect x="651" y="361" width="8" height="13" rx="2"/><rect x="640" y="377" width="8" height="14" rx="2"/><rect x="651" y="377" width="9" height="14" rx="2"/></g>
</g>

<!-- ===== BOTTOM MUSHROOM ===== -->
<g>
  <!-- body -->
  <path d="M409,536 Q404,548 403,562 Q402,580 406,596 Q430,601 460,602 Q495,601 520,594 Q522,580 522,567 Q521,550 517,538 Z" fill="url(#stripesB)"/>
  <path d="M409,536 Q404,548 403,562 Q402,580 406,596 Q430,601 460,602 Q495,601 520,594 Q522,580 522,567 Q521,550 517,538 Z" fill="url(#shadeH)"/>
  <!-- base -->
  <path d="M404,592 Q396,594 395,602 Q394,615 397,621 Q420,629 456,628.5 Q495,628 526,621 Q529,610 528,600 Q526,592 519,591 Q490,600 456,601 Q425,600 404,592 Z" fill="url(#grass)"/>
  <!-- cap -->
  <path d="M462.0,419.2 C466.1,419.2 471.9,419.2 476.3,420.3 C480.8,421.4 485.2,423.4 488.7,425.5 C492.1,427.6 494.4,429.5 497.0,432.7 C499.6,435.9 501.1,440.3 504.0,444.7 C506.9,449.1 511.5,454.4 514.7,458.8 C518.0,463.2 520.9,466.9 523.5,471.0 C526.1,475.1 528.5,479.1 530.6,483.5 C532.7,487.9 534.6,493.5 535.9,497.6 C537.2,501.7 538.2,504.7 538.5,508.2 C538.8,511.7 538.4,515.6 537.6,518.8 C536.9,522.0 535.8,525.1 534.0,527.6 C532.2,530.1 529.8,531.9 527.0,533.5 C524.2,535.1 522.3,535.8 517.0,537.0 C511.7,538.2 504.0,539.8 495.0,540.5 C486.0,541.2 473.6,541.7 462.8,541.5 C452.0,541.3 439.0,540.8 430.0,539.5 C421.0,538.2 413.6,535.9 408.6,534.0 C403.6,532.1 402.3,530.3 400.0,528.0 C397.7,525.7 396.1,523.2 395.0,520.0 C393.9,516.8 393.6,512.9 393.5,509.0 C393.4,505.1 393.9,500.4 394.7,496.5 C395.5,492.6 396.6,489.4 398.2,485.9 C399.8,482.4 402.0,477.9 404.0,475.3 C406.0,472.8 407.8,473.0 410.0,470.6 C412.2,468.2 414.4,464.9 417.0,461.0 C419.6,457.1 422.6,451.7 425.3,447.0 C428.0,442.3 430.4,436.8 433.0,433.0 C435.6,429.2 438.1,426.5 441.2,424.4 C444.3,422.3 448.0,421.2 451.5,420.3 C455.0,419.4 457.9,419.2 462.0,419.2 Z" fill="url(#capB)"/>
  <path d="M475.3,421 Q474,440 471,461.5" fill="none" stroke="#6a4438" stroke-width="1.1"/>
  <ellipse cx="475.5" cy="440" rx="3.3" ry="2.3" fill="#b8c0a0"/>
  <g fill="#7a5048"><circle cx="434" cy="432" r="1.7"/><circle cx="460" cy="420" r="1.5"/><circle cx="490" cy="427.5" r="1.7"/><circle cx="405" cy="474.5" r="1.5"/><circle cx="532" cy="484" r="1.3"/></g>
  <!-- solar box -->
  <rect x="418.5" y="469" width="96" height="50" rx="2.5" fill="#1c1c1c"/>
  <rect x="421" y="472" width="90.5" height="44" rx="2" fill="#39393d"/>
  <rect x="448" y="476" width="61" height="35" fill="#1e1e24"/>
  <rect x="450.6" y="480.3" width="54.5" height="28.7" fill="#30344a"/>
  <g stroke="#5a6078" stroke-width="0.7"><path d="M452,483.5 H504 M452,486.5 H504 M452,489.5 H504 M452,492.5 H504 M452,495.5 H504 M452,498.5 H504 M452,501.5 H504 M452,504.5 H504"/></g>
  <rect x="449.8" y="480.5" width="1.8" height="26" fill="#eaeaea"/>
  <rect x="452" y="508.5" width="52" height="1" fill="#8a8a92"/>
  <circle cx="437.1" cy="501.5" r="6.4" fill="#151515"/>
  <g fill="#9a9a9a"><circle cx="442.2" cy="475.2" r="2.3"/><circle cx="489.6" cy="474.4" r="2.3"/><circle cx="442.2" cy="513.4" r="2.3"/><circle cx="491.3" cy="512.5" r="2.3"/></g>
  <g fill="none" stroke="#7a7a7e" stroke-width="0.8"><path d="M428,480 L432,485 M432,480 L428,485 M438,480 A2,2 0 1 0 438,484 M442,480 A2,2 0 1 0 442,484 M428,490 L431,488 M437,490 L440,487"/></g>
</g>
</svg>
<div class="lbl" style="left:3.6px;top:200.7px;letter-spacing:0.33px;">Mushroom LED Lights</div>
<div class="lbl" style="left:13.5px;top:429px;letter-spacing:0.4px;">Mushroom Shape</div>
<div class="lbl" style="left:12px;top:661.5px;letter-spacing:0.17px;">ON/OFF Button</div>
</body></html>
